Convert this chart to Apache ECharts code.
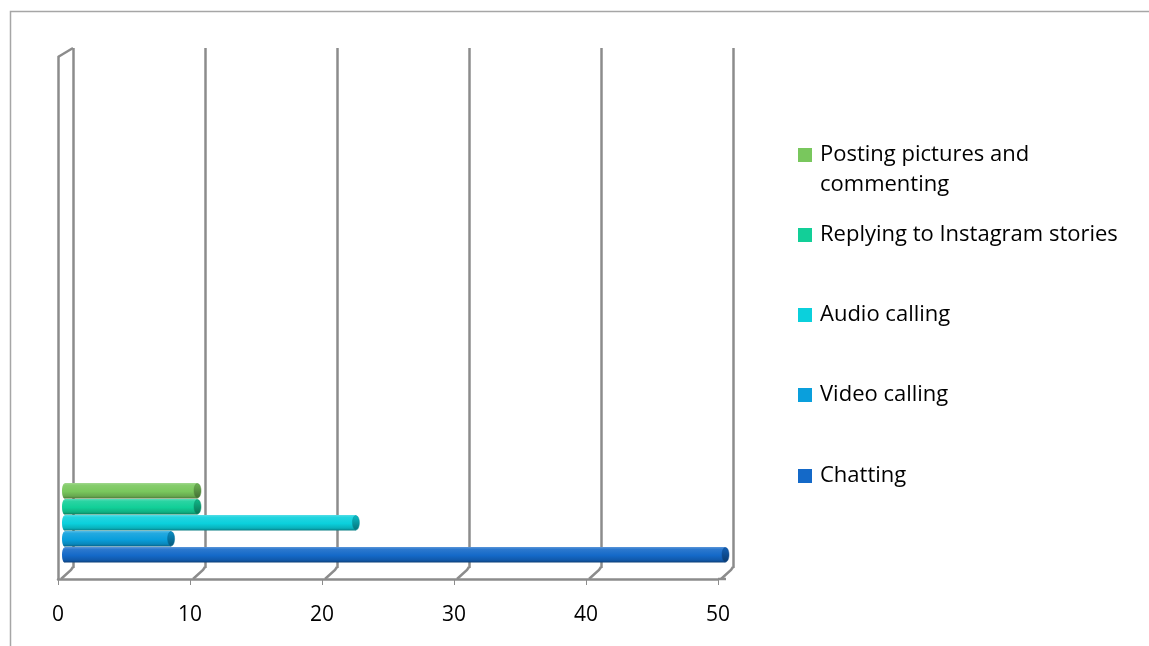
<!DOCTYPE html>
<html>
<head>
<meta charset="utf-8">
<script src="https://cdn.jsdelivr.net/npm/echarts@6/dist/echarts.min.js"></script>
<style>
  html, body { margin: 0; padding: 0; background: #ffffff; }
  #chart { width: 1149px; height: 646px; }
</style>
</head>
<body>
<div id="chart"></div>
<script>
// Activities, bottom row first
const activities = ['Chatting', 'Video calling', 'Audio calling', 'Replying to Instagram stories', 'Posting pictures and commenting'];
const shares = [50, 8, 22, 10, 10];
const barColors = ['#1469c8', '#0a9fdc', '#0bd0dc', '#12cf98', '#79c75d'];
const xTicks = [0, 10, 20, 30, 40, 50];

const FONT = 'Open Sans';
const GRID_COLOR = '#8c8c8c';
const DEPTH_X = 15;   // back wall shift to the right
const DEPTH_Y = 10;   // back wall shift upwards

function mix(hex, target, t) {
  const a = parseInt(hex.slice(1), 16);
  const r = (a >> 16) & 255, g = (a >> 8) & 255, b = a & 255;
  const tv = target === 'white' ? 255 : 0;
  const f = c => Math.round(c + (tv - c) * t);
  return 'rgb(' + f(r) + ',' + f(g) + ',' + f(b) + ')';
}

const chart = echarts.init(document.getElementById('chart'), null, { renderer: 'canvas' });

// floor / wall connectors of the 3D frame, one per tick
const frameSeries = {
  type: 'custom',
  xAxisIndex: 0,
  yAxisIndex: 0,
  silent: true,
  z: 1,
  data: xTicks,
  renderItem: function (params, api) {
    const v = api.value(0);
    const fb = api.coord([v, 0]);
    const children = [{
      type: 'polyline',
      shape: { points: [[fb[0] + 3, fb[1]], [fb[0] + DEPTH_X - 2, fb[1] - DEPTH_Y + 1], [fb[0] + DEPTH_X, fb[1] - DEPTH_Y - 2]] },
      style: { stroke: GRID_COLOR, lineWidth: 2.5, fill: null }
    }];
    if (v === xTicks[0]) {
      const ft = api.coord([v, 1]);
      children.push({
        type: 'line',
        shape: { x1: ft[0], y1: ft[1], x2: ft[0] + DEPTH_X, y2: ft[1] - DEPTH_Y + 1 },
        style: { stroke: GRID_COLOR, lineWidth: 2.5 }
      });
    }
    if (v === xTicks[xTicks.length - 1]) {
      children.push({
        type: 'line',
        shape: { x1: fb[0], y1: fb[1], x2: fb[0] + 8, y2: fb[1] },
        style: { stroke: GRID_COLOR, lineWidth: 2.5 }
      });
    }
    return { type: 'group', children: children };
  }
};

// cylinder-like horizontal bars
const barSeries = activities.map(function (name, i) {
  const base = barColors[i];
  return {
    name: name,
    type: 'custom',
    xAxisIndex: 2,
    yAxisIndex: 2,
    z: 5,
    itemStyle: { color: base },
    data: [[shares[i], name]],
    renderItem: function (params, api) {
      const cat = api.value(1);
      const start = api.coord([0, cat]);
      const end = api.coord([api.value(0), cat]);
      const h = api.size([0, 1])[1];
      const top = start[1] - h / 2;
      const grad = new echarts.graphic.LinearGradient(0, 0, 0, 1, [
        { offset: 0, color: mix(base, 'white', 0.3) },
        { offset: 0.15, color: mix(base, 'white', 0.1) },
        { offset: 0.55, color: base },
        { offset: 0.85, color: mix(base, 'black', 0.15) },
        { offset: 1, color: mix(base, 'black', 0.4) }
      ]);
      const capGrad = new echarts.graphic.LinearGradient(0, 0, 0, 1, [
        { offset: 0, color: mix(base, 'black', 0.1) },
        { offset: 1, color: mix(base, 'black', 0.45) }
      ]);
      return {
        type: 'group',
        children: [
          {
            type: 'ellipse',
            shape: { cx: start[0] - 1, cy: start[1], rx: 2.5, ry: h / 2 - 0.5 },
            style: { fill: grad }
          },
          {
            type: 'rect',
            shape: { x: start[0] - 1, y: top, width: end[0] - start[0] + 1, height: h - 0.5 },
            style: { fill: grad }
          },
          {
            type: 'ellipse',
            shape: { cx: end[0], cy: start[1] - 0.25, rx: 3.5, ry: h / 2 - 0.75 },
            style: { fill: capGrad, stroke: mix(base, 'black', 0.3), lineWidth: 0.5 }
          }
        ]
      };
    }
  };
});

// legend rows, top to bottom; a two-line entry keeps its icon beside the first line
const legendRows = [
  { name: activities[4], y: 155, lines: 2 },
  { name: activities[3], y: 235, lines: 1 },
  { name: activities[2], y: 315, lines: 1 },
  { name: activities[1], y: 395, lines: 1 },
  { name: activities[0], y: 476, lines: 1 }
];
const LINE_H = 30;
const legends = legendRows.map(function (row) {
  const extra = row.lines - 1;
  return {
    data: [row.name],
    orient: 'vertical',
    left: 798,
    top: row.y - LINE_H / 2 - extra * LINE_H,
    padding: 0,
    icon: 'rect',
    itemWidth: 14,
    itemHeight: 14,
    selectedMode: false,
    formatter: function (name) {
      return '\n'.repeat(extra) + name;
    },
    textStyle: {
      fontFamily: FONT,
      fontSize: 22,
      color: '#000',
      lineHeight: LINE_H,
      width: 320,
      overflow: 'break',
      padding: [0, 0, 0, 3]
    }
  };
});

chart.setOption({
  animation: false,
  backgroundColor: '#ffffff',
  grid: [
    { left: 58, top: 57, width: 660, height: 522 },                      // front plane
    { left: 58 + DEPTH_X, top: 57 - DEPTH_Y + 1, width: 660, height: 520 }, // back wall
    { left: 65.5, top: 483, width: 660, height: 80 }                     // bars, mid depth
  ],
  xAxis: [
    {
      gridIndex: 0, type: 'value', min: 0, max: 50, interval: 10,
      axisLine: { show: true, lineStyle: { color: GRID_COLOR, width: 2.5 } },
      axisTick: { show: true, length: 6, lineStyle: { color: GRID_COLOR, width: 1 } },
      axisLabel: { margin: 26, fontFamily: FONT, fontSize: 21, color: '#000' },
      splitLine: { show: false }
    },
    {
      gridIndex: 1, type: 'value', min: 0, max: 50, interval: 10,
      axisLine: { show: false }, axisTick: { show: false }, axisLabel: { show: false },
      splitLine: { show: true, lineStyle: { color: GRID_COLOR, width: 2.5 } }
    },
    {
      gridIndex: 2, type: 'value', min: 0, max: 50, show: false
    }
  ],
  yAxis: [
    {
      gridIndex: 0, type: 'value', min: 0, max: 1,
      axisLine: { show: true, lineStyle: { color: GRID_COLOR, width: 2.5 } },
      axisTick: { show: false }, axisLabel: { show: false }, splitLine: { show: false }
    },
    {
      gridIndex: 1, type: 'value', min: 0, max: 1, show: false,
      splitLine: { show: false }
    },
    {
      gridIndex: 2, type: 'category', data: activities, show: false
    }
  ],
  legend: legends,
  graphic: [{
    type: 'polyline',
    silent: true,
    shape: { points: [[10.5, 646], [10.5, 11.5], [1149, 11.5]] },
    style: { stroke: '#a6a6a6', lineWidth: 1.5, fill: null }
  }],
  series: [frameSeries].concat(barSeries)
});
</script>
</body>
</html>
